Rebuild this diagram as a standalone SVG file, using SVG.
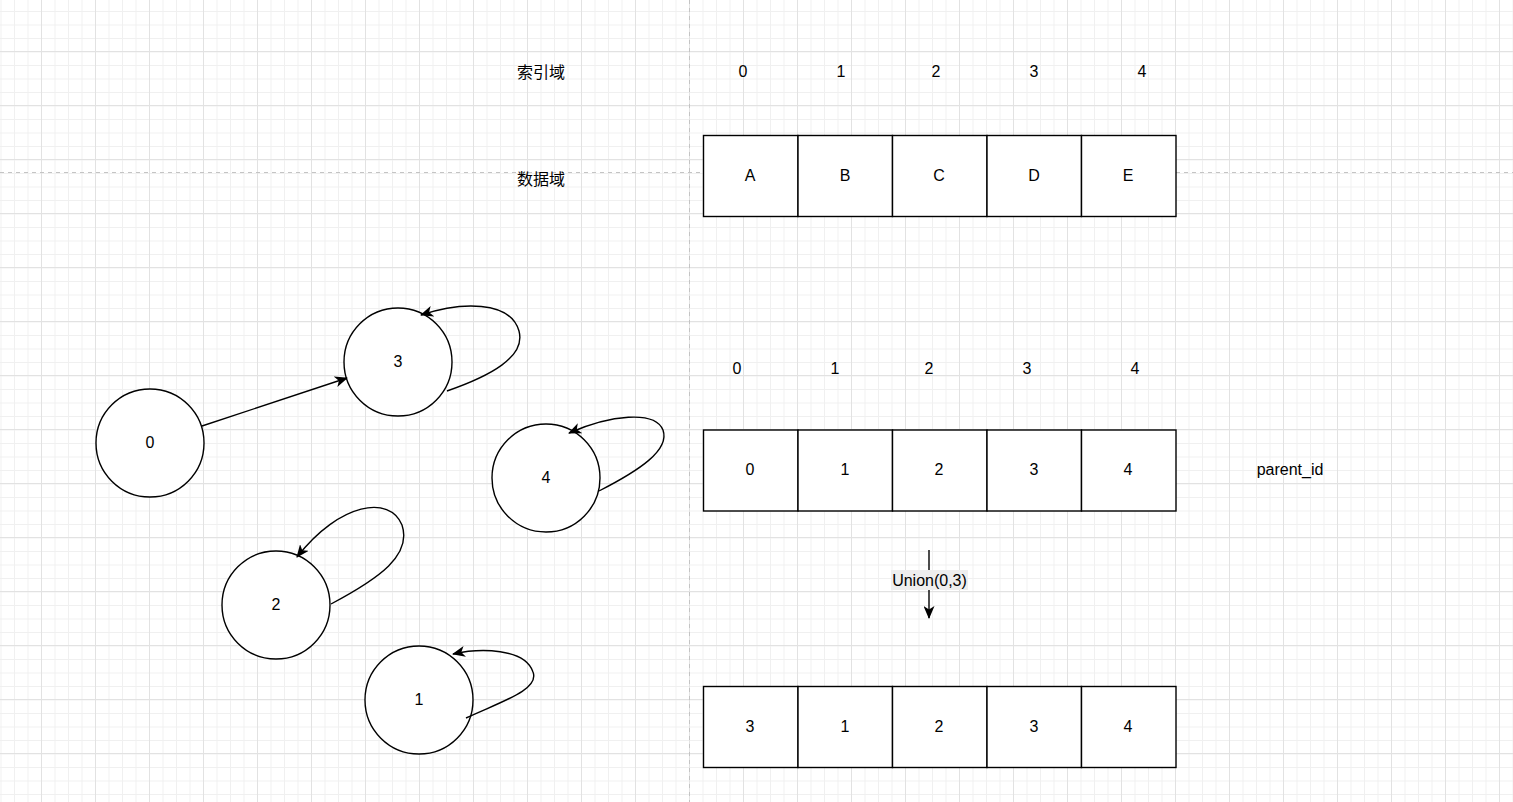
<svg xmlns="http://www.w3.org/2000/svg" width="1513" height="802" viewBox="0 0 1513 802">
<defs>
<pattern id="minor" width="13.5" height="13.5" patternUnits="userSpaceOnUse" x="0.5" y="11">
<path d="M0,0.5 H13.5 M0.5,0 V13.5" stroke="#f0f0f0" stroke-width="1" fill="none"/>
</pattern>
<pattern id="major" width="54" height="54" patternUnits="userSpaceOnUse" x="41" y="51">
<path d="M0,0.5 H54 M0.5,0 V54" stroke="#e2e2e2" stroke-width="1" fill="none"/>
</pattern>
<marker id="arr" viewBox="0 0 13 11" refX="12" refY="5.5" markerWidth="13" markerHeight="11" markerUnits="userSpaceOnUse" orient="auto">
<path d="M0,0 L13,5.5 L0,11 L3.5,5.5 Z" fill="#000"/>
</marker>
<style>
.n{fill:#fff;stroke:#000;stroke-width:1.4}
.c{fill:#fff;stroke:#000;stroke-width:1.4}
.t{font-family:"Liberation Sans",Arial,sans-serif;font-size:16px;fill:#000;text-anchor:middle;dominant-baseline:central}
.cj{font-family:"Liberation Sans","Noto Sans CJK SC",sans-serif;font-size:16px;fill:#000;text-anchor:middle;dominant-baseline:central}
.e{fill:none;stroke:#000;stroke-width:1.4}
.d{stroke:#c4c4c4;stroke-width:1;stroke-dasharray:4 4;fill:none}
</style>
</defs>
<rect width="1513" height="802" fill="#fff"/>
<rect width="1513" height="802" fill="url(#minor)"/>
<rect width="1513" height="802" fill="url(#major)"/>
<path class="d" d="M689.5,0 V802 M0,172.5 H1513"/>

<g id="labels">
<text class="cj" x="541" y="72">索引域</text>
<text class="cj" x="541" y="179">数据域</text>
<text class="t" x="743" y="71">0</text>
<text class="t" x="841" y="71">1</text>
<text class="t" x="936" y="71">2</text>
<text class="t" x="1034" y="71">3</text>
<text class="t" x="1142" y="71">4</text>
<text class="t" x="737" y="368">0</text>
<text class="t" x="835" y="368">1</text>
<text class="t" x="929" y="368">2</text>
<text class="t" x="1027" y="368">3</text>
<text class="t" x="1135" y="368">4</text>
<text class="t" x="1290" y="469">parent_id</text>
</g>

<g id="row-data">
<rect class="c" x="703.5" y="135.5" width="94.5" height="81"/>
<rect class="c" x="798" y="135.5" width="94.5" height="81"/>
<rect class="c" x="892.5" y="135.5" width="94.5" height="81"/>
<rect class="c" x="987" y="135.5" width="94.5" height="81"/>
<rect class="c" x="1081.5" y="135.5" width="94.5" height="81"/>
<text class="t" x="750" y="175">A</text>
<text class="t" x="845" y="175">B</text>
<text class="t" x="939" y="175">C</text>
<text class="t" x="1034" y="175">D</text>
<text class="t" x="1128" y="175">E</text>
</g>

<g id="row-parent">
<rect class="c" x="703.5" y="430" width="94.5" height="81"/>
<rect class="c" x="798" y="430" width="94.5" height="81"/>
<rect class="c" x="892.5" y="430" width="94.5" height="81"/>
<rect class="c" x="987" y="430" width="94.5" height="81"/>
<rect class="c" x="1081.5" y="430" width="94.5" height="81"/>
<text class="t" x="750" y="469">0</text>
<text class="t" x="845" y="469">1</text>
<text class="t" x="939" y="469">2</text>
<text class="t" x="1034" y="469">3</text>
<text class="t" x="1128" y="469">4</text>
</g>

<g id="row-union">
<rect class="c" x="703.5" y="686.5" width="94.5" height="81"/>
<rect class="c" x="798" y="686.5" width="94.5" height="81"/>
<rect class="c" x="892.5" y="686.5" width="94.5" height="81"/>
<rect class="c" x="987" y="686.5" width="94.5" height="81"/>
<rect class="c" x="1081.5" y="686.5" width="94.5" height="81"/>
<text class="t" x="750" y="726">3</text>
<text class="t" x="845" y="726">1</text>
<text class="t" x="939" y="726">2</text>
<text class="t" x="1034" y="726">3</text>
<text class="t" x="1128" y="726">4</text>
</g>

<g id="node0"><circle class="n" cx="150" cy="443" r="54"/><text class="t" x="150" y="442">0</text></g>
<g id="node3"><circle class="n" cx="398" cy="362" r="54"/><text class="t" x="398" y="361">3</text></g>
<g id="node4"><circle class="n" cx="546" cy="478" r="54"/><text class="t" x="546" y="477">4</text></g>
<g id="node2"><circle class="n" cx="276" cy="605" r="54"/><text class="t" x="276" y="604">2</text></g>
<g id="node1"><circle class="n" cx="419" cy="700" r="54"/><text class="t" x="419" y="699">1</text></g>

<g id="connectors">
<path class="e" d="M202,426 L347,378" marker-end="url(#arr)"/>
<path class="e" d="M447,391 C490,376 526,357 519,331 C510,300 460,302 421,315" marker-end="url(#arr)"/>
<path class="e" d="M599,491 C640,470 670,450 663,430 C655,410 610,415 569,433" marker-end="url(#arr)"/>
<path class="e" d="M331,604 C380,578 412,555 402,525 C390,495 340,502 297,557" marker-end="url(#arr)"/>
<path class="e" d="M466,718 C500,702 540,690 533,672 C525,648 480,648 453,654" marker-end="url(#arr)"/>
<path class="e" d="M929,550 V618" marker-end="url(#arr)"/>
<rect x="891" y="570" width="77" height="20" fill="#eeeeee"/>
<text class="t" x="929.5" y="580">Union(0,3)</text>
</g>
</svg>
